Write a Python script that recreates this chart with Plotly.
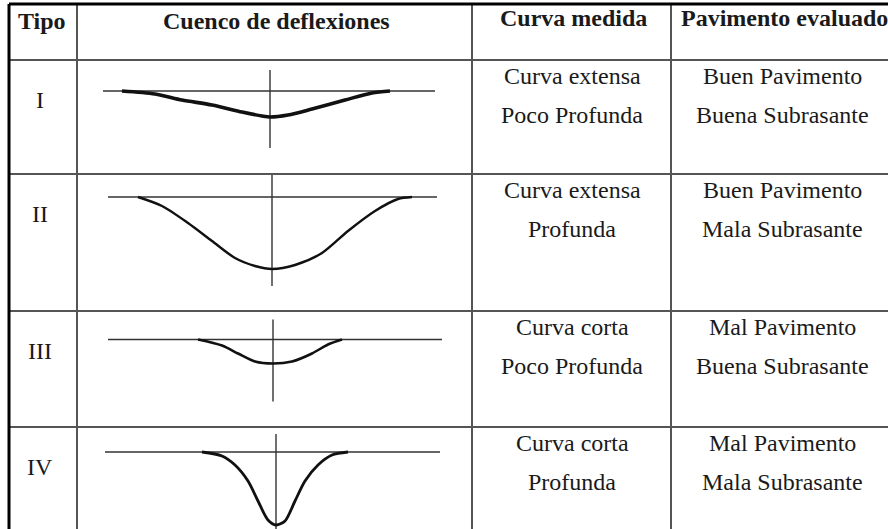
import plotly.graph_objects as go

# textos de la tabla
encabezados = ["Tipo", "Cuenco de deflexiones", "Curva medida", "Pavimento evaluado"]
tipos = ["I", "II", "III", "IV"]
curva_medida = [["Curva extensa", "Poco Profunda"],
                ["Curva extensa", "Profunda"],
                ["Curva corta", "Poco Profunda"],
                ["Curva corta", "Profunda"]]
pavimento_evaluado = [["Buen Pavimento", "Buena Subrasante"],
                      ["Buen Pavimento", "Mala Subrasante"],
                      ["Mal Pavimento", "Buena Subrasante"],
                      ["Mal Pavimento", "Mala Subrasante"]]

# cuencos: distancia al eje de carga y deflexion
distancia_I = [-148, -115, -88, -58, -28, -8, 0, 18, 42, 75, 102, 120]
deflexion_I = [0, 3, 9, 14, 21, 25, 26, 24, 18, 9, 2, 0]
distancia_II = [-134, -110, -84, -60, -37, -17, 0, 23, 50, 76, 103, 126, 140]
deflexion_II = [0, 9, 26, 44, 61, 69, 72, 68, 56, 34, 14, 2, 0]
distancia_III = [-75, -51, -35, -18, 0, 19, 39, 55, 69]
deflexion_III = [0, 6, 14, 22, 24, 22, 14, 5, 0]
distancia_IV = [-74, -54, -41, -28, -18, -8, 0, 9, 19, 29, 42, 56, 72]
deflexion_IV = [0, 4, 13, 29, 49, 68, 73, 69, 49, 29, 13, 3, 0]

# linea de referencia (superficie) y eje de carga de cada dibujo
referencia_I, eje_I = [-167, 165], [-21, 57]
referencia_II, eje_II = [-164, 165], [-22, 89]
referencia_III, eje_III = [-165, 169], [-20, 62]
referencia_IV, eje_IV = [-171, 164], [-18, 80]

W, H = 888, 529
filas = [4, 60, 174, 311, 427, 529]
columnas = [9, 77, 472, 671, 888]
centro_x = [270, 272, 273, 276]
nivel_ref = [91, 197, 339.5, 452]
FUENTE = "Liberation Serif, Times New Roman, serif"


def px(x):
    return x / W


def py(y):
    return 1 - y / H


fig = go.Figure()

cuencos = [(distancia_I, deflexion_I, referencia_I, eje_I, 3.6),
           (distancia_II, deflexion_II, referencia_II, eje_II, 2.4),
           (distancia_III, deflexion_III, referencia_III, eje_III, 2.6),
           (distancia_IV, deflexion_IV, referencia_IV, eje_IV, 2.8)]

for i, (dist, defl, ref, eje, grosor) in enumerate(cuencos):
    n = i + 2
    xa, ya = "x%d" % n, "y%d" % n
    fig.add_trace(go.Scatter(x=ref, y=[0, 0], mode="lines",
                             line=dict(color="#333", width=1.6),
                             xaxis=xa, yaxis=ya, hoverinfo="skip"))
    fig.add_trace(go.Scatter(x=[0, 0], y=eje, mode="lines",
                             line=dict(color="#333", width=1.4),
                             xaxis=xa, yaxis=ya, hoverinfo="skip"))
    fig.add_trace(go.Scatter(x=dist, y=defl, mode="lines",
                             line=dict(color="#111", width=grosor,
                                       shape="spline", smoothing=0.8),
                             xaxis=xa, yaxis=ya))
    top, bottom = filas[i + 1], filas[i + 2]
    fig.update_layout({
        "xaxis%d" % n: dict(domain=[px(columnas[1]), px(columnas[2])],
                            range=[columnas[1] - centro_x[i], columnas[2] - centro_x[i]],
                            visible=False, anchor=ya),
        "yaxis%d" % n: dict(domain=[py(bottom), py(top)],
                            range=[bottom - nivel_ref[i], top - nivel_ref[i]],
                            visible=False, anchor=xa),
    })

# rejilla de la tabla
shapes = []
for y in filas[1:5]:
    shapes.append(dict(type="line", xref="paper", yref="paper",
                       x0=px(columnas[0]), x1=1, y0=py(y), y1=py(y),
                       line=dict(color="#555", width=2)))
for x in columnas[1:4]:
    shapes.append(dict(type="line", xref="paper", yref="paper",
                       x0=px(x), x1=px(x), y0=py(filas[0]), y1=0,
                       line=dict(color="#555", width=2)))
shapes.append(dict(type="line", xref="paper", yref="paper",
                   x0=px(columnas[0]), x1=1, y0=py(filas[0]), y1=py(filas[0]),
                   line=dict(color="#000", width=3)))
shapes.append(dict(type="line", xref="paper", yref="paper",
                   x0=px(columnas[0]), x1=px(columnas[0]), y0=py(filas[0]), y1=0,
                   line=dict(color="#000", width=3)))

# textos
anotaciones = []


def texto(t, x, y, negrita=False):
    anotaciones.append(dict(text="<b>%s</b>" % t if negrita else t,
                            x=px(x), y=py(y), xref="paper", yref="paper",
                            xanchor="center", yanchor="middle", showarrow=False,
                            font=dict(family=FUENTE, size=24, color="#1a1a1a")))


for t, x, y in zip(encabezados, [42, 276, 573, 784], [21, 21, 18, 18]):
    texto(t, x, y, negrita=True)

for i in range(4):
    top = filas[i + 1]
    texto(tipos[i], 40, top + 40)
    for k in range(2):
        texto(curva_medida[i][k], 572, top + 16 + 39 * k)
        texto(pavimento_evaluado[i][k], 782, top + 16 + 39 * k)

fig.update_layout(width=W, height=H, margin=dict(l=0, r=0, t=0, b=0),
                  paper_bgcolor="white", plot_bgcolor="rgba(0,0,0,0)",
                  showlegend=False, shapes=shapes, annotations=anotaciones,
                  xaxis=dict(visible=False), yaxis=dict(visible=False))

# sin margen de pagina para que la tabla ocupe toda la ventana
fig.write_html("out.html", config={"displayModeBar": False},
               post_script="document.body.style.margin='0px';")
